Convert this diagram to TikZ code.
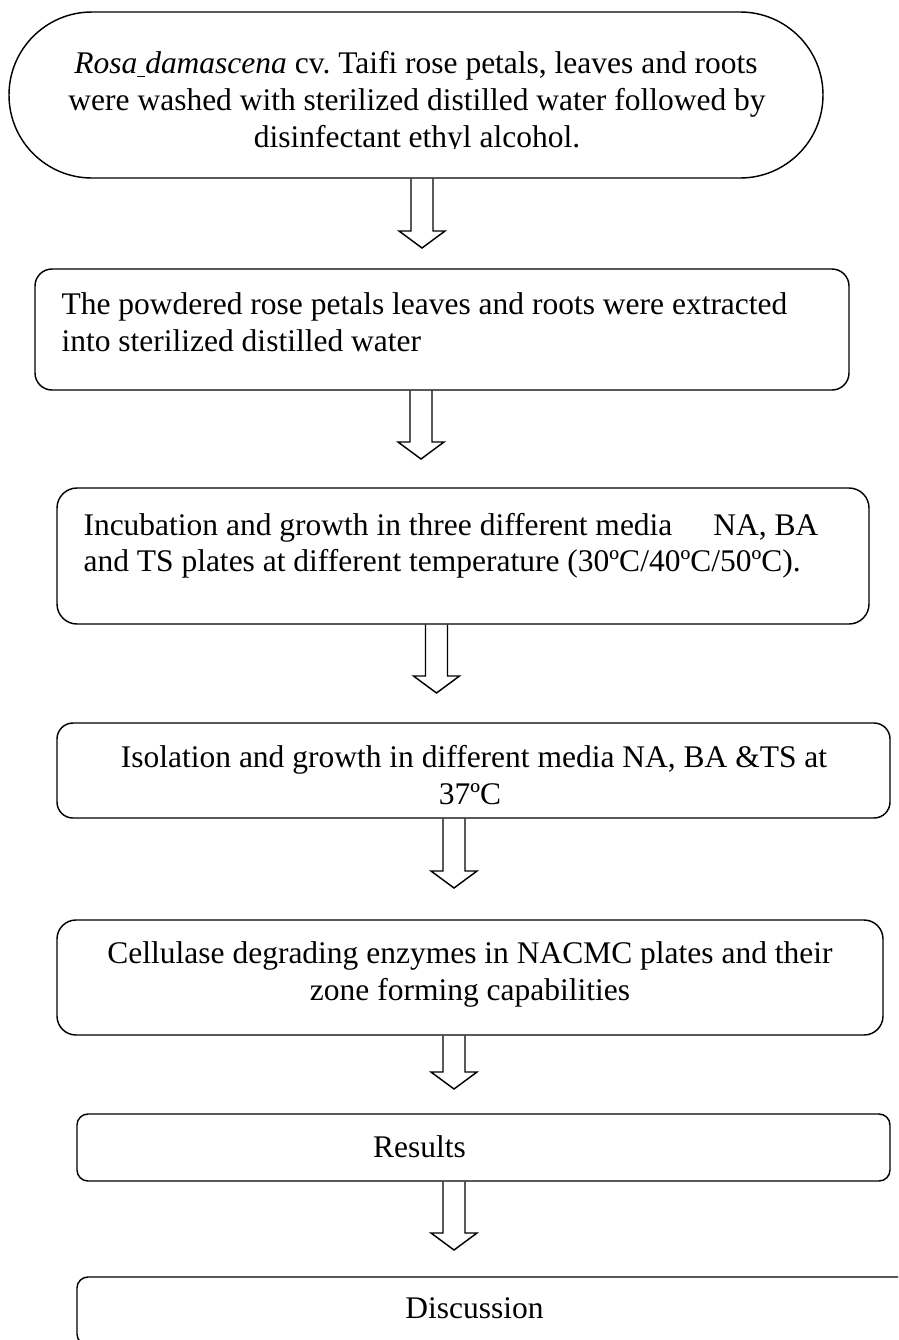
\documentclass[tikz,border=0pt]{standalone}
\usepackage{fontspec}
\setmainfont{Liberation Serif}
\usetikzlibrary{calc}
\frenchspacing
\def\pxu{0.381pt}
\tikzset{
  boxline/.style={draw=black, line width=0.55pt, inner sep=0pt},
  txt/.style={inner sep=0pt, font=\fontsize{12pt}{13.9pt}\selectfont},
  arrowline/.style={draw=black, line width=0.55pt, line join=miter},
}
\newcommand\blockarrow[2]{%
  \draw[arrowline] ($(#1)+(-11,0)$) -- ($(#2)+(-11,-17)$) -- ($(#2)+(-23,-17)$)
    -- (#2) -- ($(#2)+(23,-17)$) -- ($(#2)+(11,-17)$) -- ($(#1)+(11,0)$);}
\begin{document}
\begin{tikzpicture}[x=0.381pt,y=-0.381pt]
\clip (0,0) rectangle (898,1340);
\fill[white] (0,0) rectangle (898,1340);
% boxes
\node[boxline, rounded corners=82.9*\pxu, minimum width=814*\pxu, minimum height=166*\pxu] (b1) at (416,95) {};
\node[boxline, rounded corners=17*\pxu, minimum width=814*\pxu, minimum height=121*\pxu] (b2) at (442,329.5) {};
\node[boxline, rounded corners=20*\pxu, minimum width=812*\pxu, minimum height=136*\pxu] (b3) at (463,556) {};
\node[boxline, rounded corners=16*\pxu, minimum width=833*\pxu, minimum height=95*\pxu] (b4) at (473.5,770.5) {};
\node[boxline, rounded corners=19*\pxu, minimum width=826*\pxu, minimum height=115*\pxu] (b5) at (470,977.5) {};
\node[boxline, rounded corners=11*\pxu, minimum width=813*\pxu, minimum height=67*\pxu] (b6) at (483.5,1147.5) {};
\node[boxline, rounded corners=11*\pxu, minimum width=833*\pxu, minimum height=68*\pxu] (b7) at (493.5,1311) {};
% texts
\node[txt, anchor=base] (t1a) at (416,73) {\textit{Rosa}\underline{\ }\textit{damascena} cv.\ Taifi rose petals, leaves and roots};
\node[txt, anchor=base] (t1b) at (417,110) {were washed with sterilized distilled water followed by};
\begin{scope}
\clip (0,0) rectangle (898,148);
\node[txt, anchor=base] (t1c) at (417,147) {disinfectant ethyl alcohol.};
\end{scope}
\node[txt, anchor=base west] (t2a) at (61,314) {The powdered rose petals leaves and roots were extracted};
\node[txt, anchor=base west] (t2b) at (61,351) {into sterilized distilled water};
\node[txt, anchor=base west] (t3a) at (83,535) {Incubation and growth in three different media\hspace{15.6pt}NA, BA};
\node[txt, anchor=base west] (t3b) at (83,571) {and TS plates at different temperature (30ºC/40ºC/50ºC).};
\node[txt, anchor=base] (t4a) at (474,767) {Isolation and growth in different media NA, BA \&TS at};
\node[txt, anchor=base] (t4b) at (470,804) {37ºC};
\node[txt, anchor=base] (t5a) at (470,963) {Cellulase degrading enzymes in NACMC plates and their};
\node[txt, anchor=base] (t5b) at (470,1000.5) {zone forming capabilities};
\node[txt, anchor=base] (t6) at (419.5,1157) {Results};
\node[txt, anchor=base] (t7) at (474.5,1318) {Discussion};
% arrow tips
\coordinate (p1) at (422,248);
\coordinate (p2) at (421,459);
\coordinate (p3) at (436.5,693);
\coordinate (p4) at (454,888);
\coordinate (p5) at (454,1089);
\coordinate (p6) at (454,1250);
\blockarrow{b1.south -| p1}{p1}
\blockarrow{b2.south -| p2}{p2}
\blockarrow{b3.south -| p3}{p3}
\blockarrow{b4.south -| p4}{p4}
\blockarrow{b5.south -| p5}{p5}
\blockarrow{b6.south -| p6}{p6}
\end{tikzpicture}
\end{document}
